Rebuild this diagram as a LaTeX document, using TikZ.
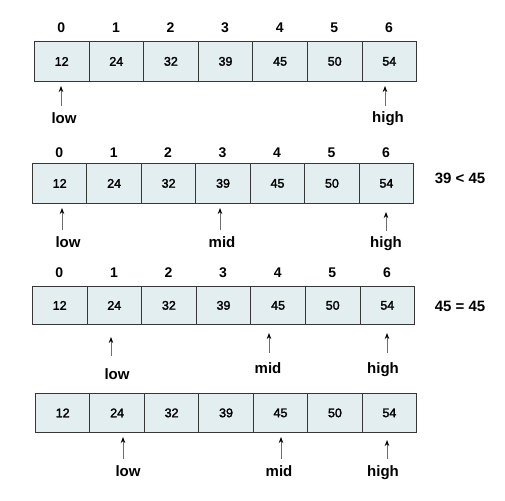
\documentclass[tikz,border=0pt]{standalone}
\usepackage{fontspec}
\setmainfont{Liberation Sans}
\newfontfamily\cellfont[FakeBold=2]{Liberation Sans}
\usetikzlibrary{arrows.meta}
\definecolor{cellfill}{RGB}{226,238,240}
\definecolor{cellline}{RGB}{55,55,55}
\definecolor{shaft}{RGB}{110,110,110}
\tikzset{
  cell/.style={draw=cellline, line width=0.8pt, fill=cellfill, minimum width=54.6pt,
    minimum height=40pt, inner sep=0pt, anchor=north west,
    font=\cellfont\fontsize{12.5}{12.5}\selectfont},
  idx/.style={font=\bfseries\fontsize{14}{14}\selectfont, inner sep=0pt},
  ptrlabel/.style={font=\bfseries\fontsize{15}{15}\selectfont, inner sep=0pt, anchor=base},
  cmplabel/.style={font=\bfseries\fontsize{15}{15}\selectfont, inner sep=0pt},
  ptrarrow/.style={draw=shaft, line width=0.8pt, -{Stealth[length=6pt,width=4.5pt,color=black]}}
}
\begin{document}
\begin{tikzpicture}[x=1pt,y=1pt]
\useasboundingbox (0,0) rectangle (505,-500);

% ---------- row 1 ----------
\foreach \v [count=\i from 0] in {12,24,32,39,45,50,54} {
  \node[cell] (ra\i) at ({34+\i*54.6},-41) {\v};
  \node[idx] (ia\i) at ({34+\i*54.6+27.3},-28) {\i};
}
\node[ptrlabel] (alow) at (64,-123) {low};
\node[ptrlabel] (ahigh) at (388,-122) {high};
\coordinate (alowt) at (61,-86);
\coordinate (alowb) at (61,-106);
\coordinate (ahight) at (385,-86);
\coordinate (ahighb) at (385,-106);
\draw[ptrarrow] (alowb) -- (alowt);
\draw[ptrarrow] (ahighb) -- (ahight);

% ---------- row 2 ----------
\foreach \v [count=\i from 0] in {12,24,32,39,45,50,54} {
  \node[cell] (rb\i) at ({32+\i*54.45},-163) {\v};
  \node[idx] (ib\i) at ({32+\i*54.45+27.2},-153) {\i};
}
\node[cmplabel] (bcmp) at (460,-178) {39 < 45};
\node[ptrlabel] (blow) at (68,-247) {low};
\node[ptrlabel] (bmid) at (222,-247) {mid};
\node[ptrlabel] (bhigh) at (386,-247) {high};
\coordinate (blowt) at (62,-208);
\coordinate (blowb) at (62,-230);
\coordinate (bmidt) at (220,-208);
\coordinate (bmidb) at (220,-230);
\coordinate (bhight) at (386,-212);
\coordinate (bhighb) at (386,-231);
\draw[ptrarrow] (blowb) -- (blowt);
\draw[ptrarrow] (bmidb) -- (bmidt);
\draw[ptrarrow] (bhighb) -- (bhight);

% ---------- row 3 ----------
\foreach \v [count=\i from 0] in {12,24,32,39,45,50,54} {
  \node[cell, minimum height=38pt] (rc\i) at ({32+\i*54.6},-286) {\v};
  \node[idx] (ic\i) at ({32+\i*54.6+27.3},-273) {\i};
}
\node[cmplabel] (ccmp) at (460,-306) {45 = 45};
\node[ptrlabel] (clow) at (117,-379) {low};
\node[ptrlabel] (cmid) at (268,-373) {mid};
\node[ptrlabel] (chigh) at (383,-373) {high};
\coordinate (clowt) at (111,-337);
\coordinate (clowb) at (111,-356);
\coordinate (cmidt) at (269,-333);
\coordinate (cmidb) at (269,-353);
\coordinate (chight) at (387,-333);
\coordinate (chighb) at (387,-353);
\draw[ptrarrow] (clowb) -- (clowt);
\draw[ptrarrow] (cmidb) -- (cmidt);
\draw[ptrarrow] (chighb) -- (chight);

% ---------- row 4 ----------
\foreach \v [count=\i from 0] in {12,24,32,39,45,50,54} {
  \node[cell, minimum height=39pt] (rd\i) at ({35+\i*54.45},-393) {\v};
}
\node[ptrlabel] (dlow) at (128,-476) {low};
\node[ptrlabel] (dmid) at (279,-476) {mid};
\node[ptrlabel] (dhigh) at (383,-476) {high};
\coordinate (dlowt) at (123,-437);
\coordinate (dlowb) at (123,-459);
\coordinate (dmidt) at (281,-437);
\coordinate (dmidb) at (281,-459);
\coordinate (dhight) at (387,-440);
\coordinate (dhighb) at (387,-459);
\draw[ptrarrow] (dlowb) -- (dlowt);
\draw[ptrarrow] (dmidb) -- (dmidt);
\draw[ptrarrow] (dhighb) -- (dhight);
\end{tikzpicture}
\end{document}
